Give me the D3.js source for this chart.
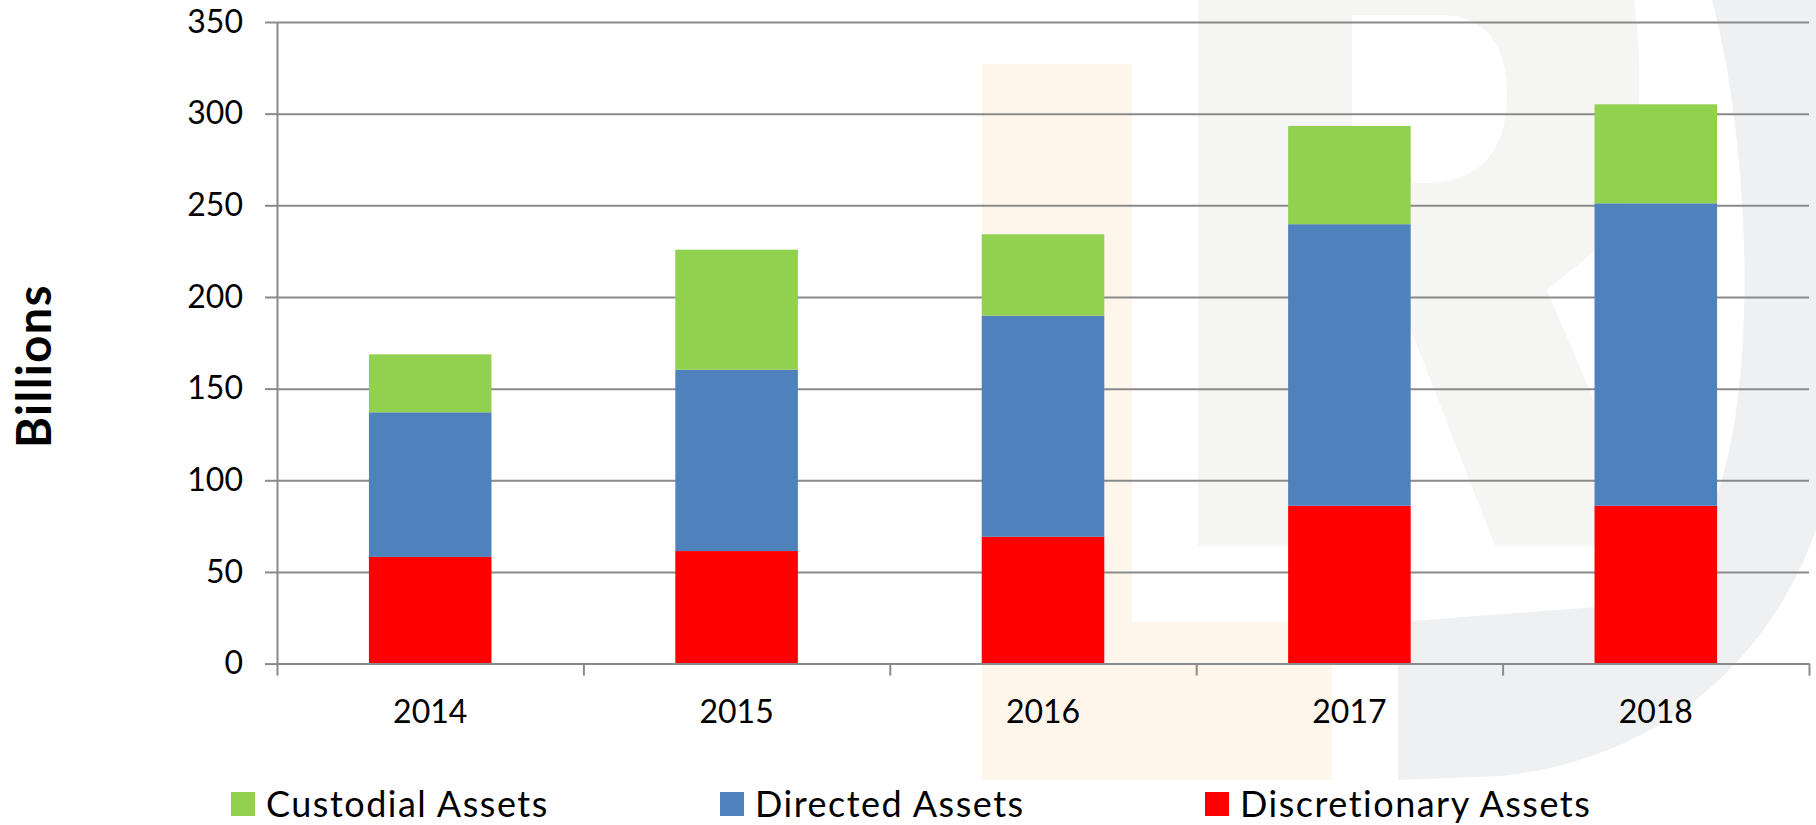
<!DOCTYPE html>
<html>
<head>
<meta charset="utf-8">
<script src="https://cdn.jsdelivr.net/npm/d3@7"></script>
<style>
  html, body { margin: 0; padding: 0; background: #fff; }
  svg { display: block; font-family: Lato, "Open Sans", sans-serif; }
</style>
</head>
<body>
<svg id="assetsChart" width="1816" height="825"></svg>
<script>
// categories + series values (billions)
const years = ['2014', '2015', '2016', '2017', '2018'];
const discretionaryAssets = [58.2, 61.4, 69.2, 86.1, 86.1];
const directedAssets = [78.9, 98.9, 120.6, 153.6, 165.0];
const custodialAssets = [31.6, 65.5, 44.4, 53.6, 54.0];

const yTicks = [0, 50, 100, 150, 200, 250, 300, 350];
const seriesKeys = ['discretionary', 'directed', 'custodial'];
const legendLabels = ['Custodial Assets', 'Directed Assets', 'Discretionary Assets'];
const legendKeys = ['custodial', 'directed', 'discretionary'];

const colors = {
    custodial: '#92D050',
    directed: '#4F81BD',
    discretionary: '#FF0000'
};

// plot box
const plotLeft = 277, plotRight = 1809, plotTop = 22, plotBottom = 663.6;

const svg = d3.select('#assetsChart');

// faint logo watermark behind the plot
const bg = svg.append('g').attr('class', 'watermark');
bg.append('path') // orange L
    .attr('d', 'M982,64 L1132,64 L1132,622 L1332,622 L1332,780 L982,780 Z')
    .attr('fill', '#FEF6EA');
bg.append('path') // grey R
    .attr('d', 'M1198,0 L1634,0 C1646,90 1640,200 1596,250 L1547,290 L1656,546 L1495,546 L1378,245 L1352,245 L1352,546 L1198,546 Z')
    .attr('fill', '#F5F5F4');
bg.append('path') // R counter
    .attr('d', 'M1352,15 L1440,15 C1488,15 1507,48 1507,95 C1507,150 1480,183 1426,183 L1352,183 Z')
    .attr('fill', '#fff');
bg.append('path') // D arc
    .attr('d', 'M1712,0 C1752,150 1762,420 1702,530 C1672,582 1640,600 1596,607 L1398,622 L1398,780 L1500,776 C1640,762 1762,680 1816,530 L1816,0 Z')
    .attr('fill', '#EFF0F2');

const x = d3.scaleBand()
    .domain(years)
    .range([plotLeft, plotRight])
    .paddingInner(0.6)
    .paddingOuter(0.3);

const y = d3.scaleLinear()
    .domain([0, 350])
    .range([plotBottom, plotTop]);

// category boundaries for the x tick marks
const xEdges = d3.scaleLinear().domain([0, years.length]).range([plotLeft, plotRight]);

// grid lines
svg.append('g')
    .attr('class', 'grid')
    .attr('transform', 'translate(' + plotLeft + ',0)')
    .call(d3.axisLeft(y).tickValues(yTicks).tickSize(-(plotRight - plotLeft)).tickFormat(''))
    .call(g => g.select('.domain').remove())
    .selectAll('line')
    .attr('stroke', '#8a8a8a')
    .attr('stroke-width', 2);

// stacked bars
const table = years.map((yr, i) => ({
    year: yr,
    discretionary: discretionaryAssets[i],
    directed: directedAssets[i],
    custodial: custodialAssets[i]
}));
const stacked = d3.stack().keys(seriesKeys)(table);

svg.append('g')
    .selectAll('g')
    .data(stacked)
    .join('g')
    .attr('fill', d => colors[d.key])
    .selectAll('rect')
    .data(d => d)
    .join('rect')
    .attr('x', d => x(d.data.year))
    .attr('width', x.bandwidth())
    .attr('y', d => y(d[1]))
    .attr('height', d => y(d[0]) - y(d[1]));

// y axis
const yAxis = svg.append('g')
    .attr('transform', 'translate(' + plotLeft + ',0)')
    .call(d3.axisLeft(y).tickValues(yTicks).tickSize(12).tickSizeOuter(0).tickPadding(22));
yAxis.select('.domain').attr('stroke', '#8a8a8a').attr('stroke-width', 2);
yAxis.selectAll('.tick line').attr('stroke', '#8a8a8a').attr('stroke-width', 2);
yAxis.selectAll('.tick text')
    .attr('fill', '#000')
    .style('font-size', '32px')
    .style('font-family', 'Lato, sans-serif');

// x axis: ticks sit between categories
const xTicks = svg.append('g')
    .attr('transform', 'translate(0,' + plotBottom + ')')
    .call(d3.axisBottom(xEdges).tickValues(d3.range(years.length + 1)).tickSize(12).tickSizeOuter(0).tickFormat(''));
xTicks.select('.domain').attr('stroke', '#8a8a8a').attr('stroke-width', 2);
xTicks.selectAll('.tick line').attr('stroke', '#8a8a8a').attr('stroke-width', 2);

const xLabels = svg.append('g')
    .attr('transform', 'translate(0,' + plotBottom + ')')
    .call(d3.axisBottom(x).tickSize(0).tickPadding(37));
xLabels.select('.domain').remove();
xLabels.selectAll('.tick text')
    .attr('fill', '#000')
    .style('font-size', '32px')
    .style('font-family', 'Lato, sans-serif');

// y axis title
svg.append('text')
    .attr('transform', 'translate(51,366) rotate(-90)')
    .attr('text-anchor', 'middle')
    .style('font-size', '47px')
    .style('font-weight', 'bold')
    .style('letter-spacing', '1.5px')
    .style('font-family', 'Lato, sans-serif')
    .text('Billions');

// legend
const legendX = [231, 720, 1205];
const legend = svg.append('g')
    .selectAll('g')
    .data(legendKeys)
    .join('g')
    .attr('transform', (d, i) => 'translate(' + legendX[i] + ',792)');

legend.append('rect')
    .attr('width', 24)
    .attr('height', 24)
    .attr('fill', d => colors[d]);

legend.append('text')
    .attr('x', 35)
    .attr('y', 24.5)
    .style('font-size', '36px')
    .style('letter-spacing', '1.5px')
    .style('font-family', 'Lato, sans-serif')
    .text((d, i) => legendLabels[i]);
</script>
</body>
</html>
